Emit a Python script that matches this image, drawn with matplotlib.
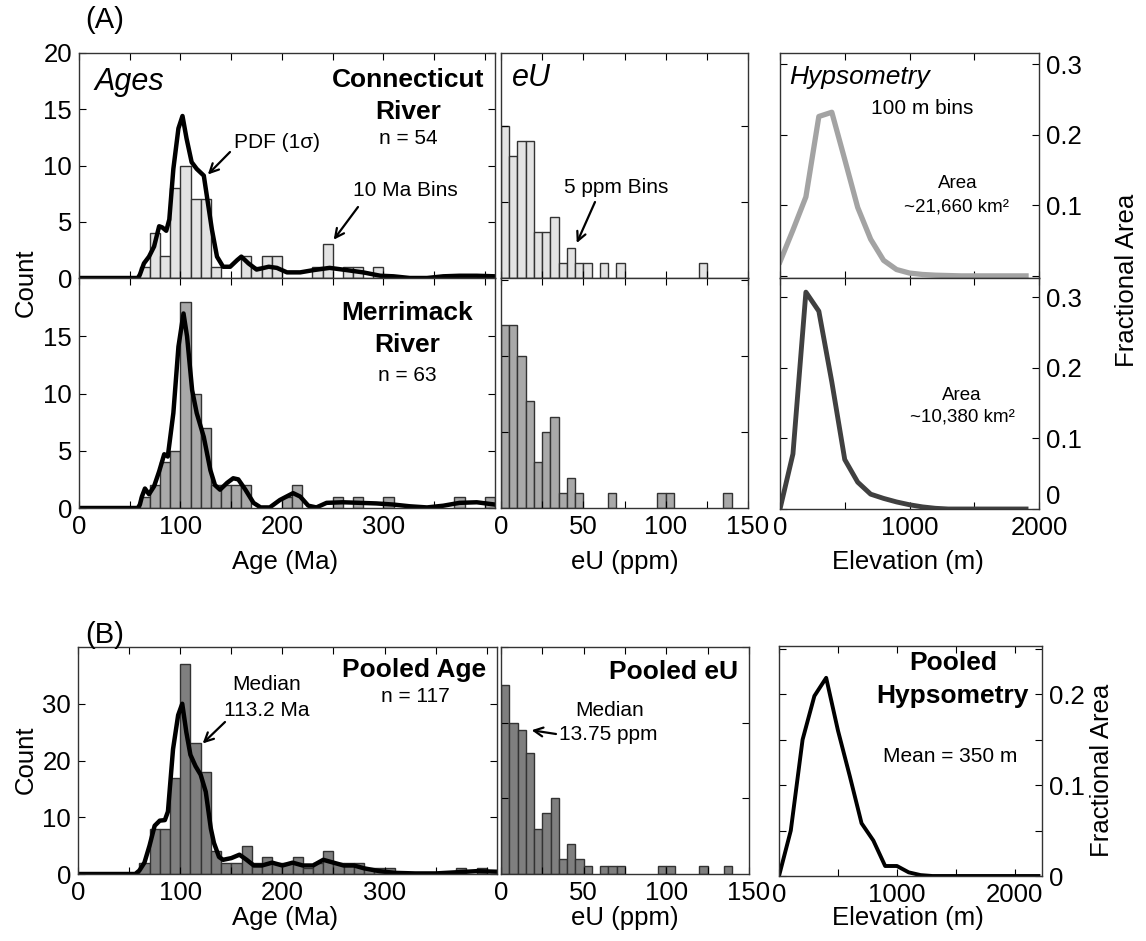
"""Detrital AFT/AHe ages, eU and hypsometry panels (Connecticut / Merrimack / pooled)."""
import matplotlib
matplotlib.use("Agg")
import matplotlib.pyplot as plt

plt.rcParams.update({"font.family": ["Liberation Sans", "DejaVu Sans"], "font.size": 18.5,
                     "xtick.direction": "in", "ytick.direction": "in",
                     "xtick.top": True, "ytick.right": True,
                     "xtick.major.size": 5, "ytick.major.size": 5,
                     "xtick.major.pad": 5, "ytick.major.pad": 5,
                     "axes.edgecolor": "#333333", "axes.linewidth": 1.0})

# ---- data ----
# ages, 10 Ma bins (left edges) and counts
ct_age_left = [60, 70, 80, 90, 100, 110, 120, 130, 160, 170, 180, 190, 230, 240, 260, 270, 290]
ct_age_count = [1, 4, 2, 8, 10, 7, 7, 1, 2, 1, 2, 2, 1, 3, 1, 1, 1]
mr_age_left = [60, 70, 80, 90, 100, 110, 120, 130, 140, 150, 160, 200, 210, 250, 270, 300, 370, 400]
mr_age_count = [1, 2, 4, 5, 18, 10, 7, 2, 2, 2, 2, 1, 2, 1, 1, 1, 1, 1]
pl_age_left = [60, 70, 80, 90, 100, 110, 120, 130, 140, 150, 160, 170, 180, 190, 200, 210,
               220, 230, 240, 250, 260, 270, 280, 290, 300, 370, 390]
pl_age_count = [2, 8, 8, 17, 37, 23, 18, 4, 2, 2, 5, 2, 3, 2, 2, 3, 1, 2, 4, 2, 2, 2, 1, 1, 1, 1, 1]

# PDF (1 sigma) curves, sampled from the figure
ct_pdf_age = [0, 58, 60, 64, 69, 74, 79, 82, 86, 89, 93, 98, 102, 106, 111, 116, 123, 126, 131,
              136, 142, 149, 156, 160, 167, 175, 187, 195, 205, 218, 231, 247, 264, 280, 297,
              310, 326, 343, 359, 375, 392, 410]
ct_pdf_val = [0, 0, 0.3, 1.3, 1.9, 2.8, 4.6, 4.5, 4.2, 5.2, 9.7, 13.3, 14.4, 12.4, 10.3, 9.7,
              9.1, 7.3, 4.3, 1.9, 1.0, 1.0, 1.6, 1.9, 1.3, 0.75, 1.0, 0.9, 0.5, 0.5, 0.7, 0.9,
              0.7, 0.5, 0.2, 0.15, 0, 0, 0.15, 0.2, 0.2, 0.15]
mr_pdf_age = [0, 58, 60, 62, 65, 69, 74, 79, 84, 87.5, 93, 98, 103, 106.5, 111.5, 116, 123, 129.5,
              134, 139, 146, 152, 157, 164, 172, 179, 188, 198, 211, 218, 226, 234, 244, 260,
              277, 293, 310, 326, 343, 359, 375, 392, 410]
mr_pdf_val = [0, 0, 0.3, 1.0, 1.7, 1.2, 1.9, 3.2, 4.7, 4.5, 8.3, 14.1, 17.0, 15.0, 10.3, 8.3,
              6.2, 3.3, 2.0, 1.6, 2.2, 2.6, 2.5, 1.6, 0.45, 0.05, 0.05, 0.7, 1.3, 1.0, 0.2, 0.05,
              0.45, 0.5, 0.45, 0.4, 0.3, 0.15, 0.05, 0.2, 0.45, 0.5, 0.3]
pl_pdf_age = [0, 56, 60, 65, 70, 75, 80, 85, 88, 93, 98, 102, 106, 110, 115, 120, 125, 130, 133,
              138, 142, 150, 158, 165, 172, 180, 190, 200, 210, 220, 230, 240, 250, 260, 270,
              280, 295, 310, 330, 350, 370, 390, 410]
pl_pdf_val = [0, 0, 0.6, 2.0, 5.0, 8.5, 9.4, 9.5, 11, 22, 28, 30, 25, 21, 19, 17.5, 14.5, 8,
              5.5, 3.0, 2.5, 2.8, 3.4, 2.5, 1.5, 1.5, 2.0, 1.5, 2.0, 1.5, 1.5, 2.5, 2.0, 1.5,
              1.5, 1.0, 0.5, 0.2, 0.1, 0.1, 0.3, 0.5, 0.4]

# eU, 5 ppm bins (left edges) and counts
ct_eu_left = [0, 5, 10, 15, 20, 25, 30, 35, 40, 45, 50, 60, 70, 120]
ct_eu_count = [10, 8, 9, 9, 3, 3, 4, 1, 2, 1, 1, 1, 1, 1]
mr_eu_left = [0, 5, 10, 15, 20, 25, 30, 35, 40, 45, 65, 95, 100, 135]
mr_eu_count = [12, 12, 10, 7, 3, 5, 6, 1, 2, 1, 1, 1, 1, 1]
pl_eu_left = [0, 5, 10, 15, 20, 25, 30, 35, 40, 45, 50, 60, 65, 70, 95, 100, 120, 135]
pl_eu_count = [25, 20, 19, 16, 6, 8, 10, 2, 4, 2, 1, 1, 1, 1, 1, 1, 1, 1]

# hypsometry, 100 m bins
ct_elev = list(range(0, 2000, 100))
ct_frac = [0.02, 0.065, 0.112, 0.226, 0.232, 0.165, 0.097, 0.052, 0.022, 0.009, 0.004, 0.002,
           0.001, 0.0005, 0, 0, 0, 0, 0, 0]
mr_elev = list(range(0, 2000, 100))
mr_frac = [0, 0.078, 0.307, 0.28, 0.18, 0.07, 0.038, 0.021, 0.015, 0.010, 0.006, 0.003, 0.001,
           0, 0, 0, 0, 0, 0, 0]
pl_elev = list(range(0, 2300, 100))
pl_frac = [0, 0.05, 0.15, 0.198, 0.218, 0.16, 0.11, 0.058, 0.039, 0.011, 0.011, 0.004, 0.001,
           0, 0, 0, 0, 0, 0, 0, 0, 0, 0]

W, H = 1146, 941
fig = plt.figure(figsize=(W / 100, H / 100), dpi=100)


def box(l, t, r, b):
    return fig.add_axes([l / W, 1 - b / H, (r - l) / W, (b - t) / H])


def ftext(x, y, s, **kw):
    kw.setdefault("ha", "center")
    kw.setdefault("va", "center")
    fig.text(x / W, 1 - y / H, s, **kw)


def arrow(ax, tip, start):
    ax.annotate("", xy=tip, xycoords="data", xytext=(start[0], H - start[1]),
                textcoords="figure pixels",
                arrowprops=dict(arrowstyle="->", lw=1.6, color="k", mutation_scale=16,
                                shrinkA=0, shrinkB=0))


def ages_panel(ax, left, count, pdf_x, pdf_y, color, ymax, yticks, xlabels):
    ax.bar(left, count, width=10, align="edge", color=color, edgecolor="#333333", lw=1)
    ax.plot(pdf_x, pdf_y, color="k", lw=3.2, solid_joinstyle="round")
    ax.set_xlim(0, 410)
    ax.set_ylim(0, ymax)
    ax.set_xticks(range(0, 401, 50))
    ax.set_xticklabels(["0", "", "100", "", "200", "", "300", "", ""] if xlabels else [])
    ax.set_yticks(yticks)


def eu_panel(ax, left, count, color, ymax, ystep, xlabels):
    ax.bar(left, count, width=5, align="edge", color=color, edgecolor="#333333", lw=1)
    ax.set_xlim(0, 150)
    ax.set_ylim(0, ymax)
    ax.set_xticks(range(0, 151, 25))
    ax.set_xticklabels(["0", "", "50", "", "100", "", "150"] if xlabels else [])
    ax.set_yticks([ystep * i for i in range(1, int(ymax / ystep) + 1)])
    ax.tick_params(labelleft=False)


def hyp_panel(ax, elev, frac, color, lw, xmax, ylim, yticks, ylabels, xlabels):
    ax.plot(elev, frac, color=color, lw=lw, solid_joinstyle="round")
    ax.set_xlim(0, xmax)
    ax.set_ylim(*ylim)
    ax.set_xticks(range(0, 2001, 500))
    ax.set_xticklabels(["0", "", "1000", "", "2000"] if xlabels else [])
    ax.set_yticks(yticks)
    ax.set_yticklabels(ylabels)
    ax.tick_params(labelleft=False, labelright=True)


# ---- (A) ----
a1 = box(79, 53, 495, 278)
ages_panel(a1, ct_age_left, ct_age_count, ct_pdf_age, ct_pdf_val, "#e3e3e3", 20,
           [0, 5, 10, 15, 20], False)
a2 = box(79, 278, 495, 508)
ages_panel(a2, mr_age_left, mr_age_count, mr_pdf_age, mr_pdf_val, "#a9a9a9", 20.1,
           [0, 5, 10, 15], True)
e1 = box(501, 53, 748, 278)
eu_panel(e1, ct_eu_left, ct_eu_count, "#e3e3e3", 14.8, 5, False)
e2 = box(501, 278, 748, 508)
eu_panel(e2, mr_eu_left, mr_eu_count, "#a9a9a9", 15.1, 5, True)
h1 = box(780, 53, 1039, 278)
hyp_panel(h1, ct_elev, ct_frac, "#a3a3a3", 3.8, 2000, (-0.003, 0.316), [0, 0.1, 0.2, 0.3],
          ["", "0.1", "0.2", "0.3"], False)
h2 = box(780, 278, 1039, 509)
hyp_panel(h2, mr_elev, mr_frac, "#404040", 3.5, 2000, (0, 0.327), [0, 0.1, 0.2, 0.3],
          ["0", "0.1", "0.2", "0.3"], True)
# the "0" sits just above its tick, clear of the "2000" below it
h2.yaxis.get_major_ticks()[0].label2.set_verticalalignment("bottom")

# ---- (B) ----
b1 = box(78, 647, 497, 874)
ages_panel(b1, pl_age_left, pl_age_count, pl_pdf_age, pl_pdf_val, "#7f7f7f", 40,
           [0, 10, 20, 30], True)
b2 = box(501, 647, 749, 874)
eu_panel(b2, pl_eu_left, pl_eu_count, "#7f7f7f", 30, 10, True)
b3 = box(779, 646, 1042, 876)
hyp_panel(b3, pl_elev, pl_frac, "k", 2.8, 2230, (0, 0.253),
          [0, 0.05, 0.1, 0.15, 0.2, 0.25], ["0", "", "0.1", "", "0.2", ""], True)

# ---- labels & annotations ----
ftext(105, 20, "(A)", fontsize=21)
ftext(105, 635, "(B)", fontsize=21)
ftext(26, 283, "Count", rotation=90)
ftext(26, 760, "Count", rotation=90)
ftext(1127, 280, "Fractional Area", rotation=90)
ftext(1102, 770, "Fractional Area", rotation=90)
for y in (562, 918):
    ftext(285, y, "Age (Ma)")
    ftext(625, y, "eU (ppm)")
    ftext(908, y, "Elevation (m)")

ftext(129, 82, "Ages", fontsize=22, style="italic")
ftext(408, 80, "Connecticut", fontsize=19, weight="bold")
ftext(408, 112, "River", fontsize=19, weight="bold")
ftext(408, 138, "n = 54", fontsize=15)
ftext(277, 143, "PDF (1σ)", fontsize=15)
arrow(a1, (127, 9.2), (230, 152))
ftext(405, 190, "10 Ma Bins", fontsize=15)
arrow(a1, (251, 3.4), (358, 207))

ftext(407, 313, "Merrimack", fontsize=19, weight="bold")
ftext(407, 345, "River", fontsize=19, weight="bold")
ftext(407, 375, "n = 63", fontsize=15)

ftext(531, 78, "eU", fontsize=22, style="italic")
ftext(616, 187, "5 ppm Bins", fontsize=15)
arrow(e1, (46, 2.3), (595, 202))

ftext(860, 77, "Hypsometry", fontsize=19, style="italic")
ftext(922, 109, "100 m bins", fontsize=15)
ftext(958, 183, "Area", fontsize=13.5)
ftext(957, 207, "~21,660 km²", fontsize=13.5)
ftext(962, 396, "Area", fontsize=13.5)
ftext(962, 417, "~10,380 km²", fontsize=13.5)

ftext(414, 670, "Pooled Age", fontsize=19, weight="bold")
ftext(415, 697, "n = 117", fontsize=15)
ftext(267, 685, "Median", fontsize=15)
ftext(267, 710, "113.2 Ma", fontsize=15)
arrow(b1, (122, 23), (225, 722))

ftext(674, 672, "Pooled eU", fontsize=19, weight="bold")
ftext(610, 710, "Median", fontsize=15)
ftext(608, 734, "13.75 ppm", fontsize=15)
arrow(b2, (18.5, 19.0), (556, 734))

ftext(953, 663, "Pooled", fontsize=19, weight="bold")
ftext(952, 696, "Hypsometry", fontsize=19, weight="bold")
ftext(950, 757, "Mean = 350 m", fontsize=15)

fig.savefig("out.png", dpi=100)
